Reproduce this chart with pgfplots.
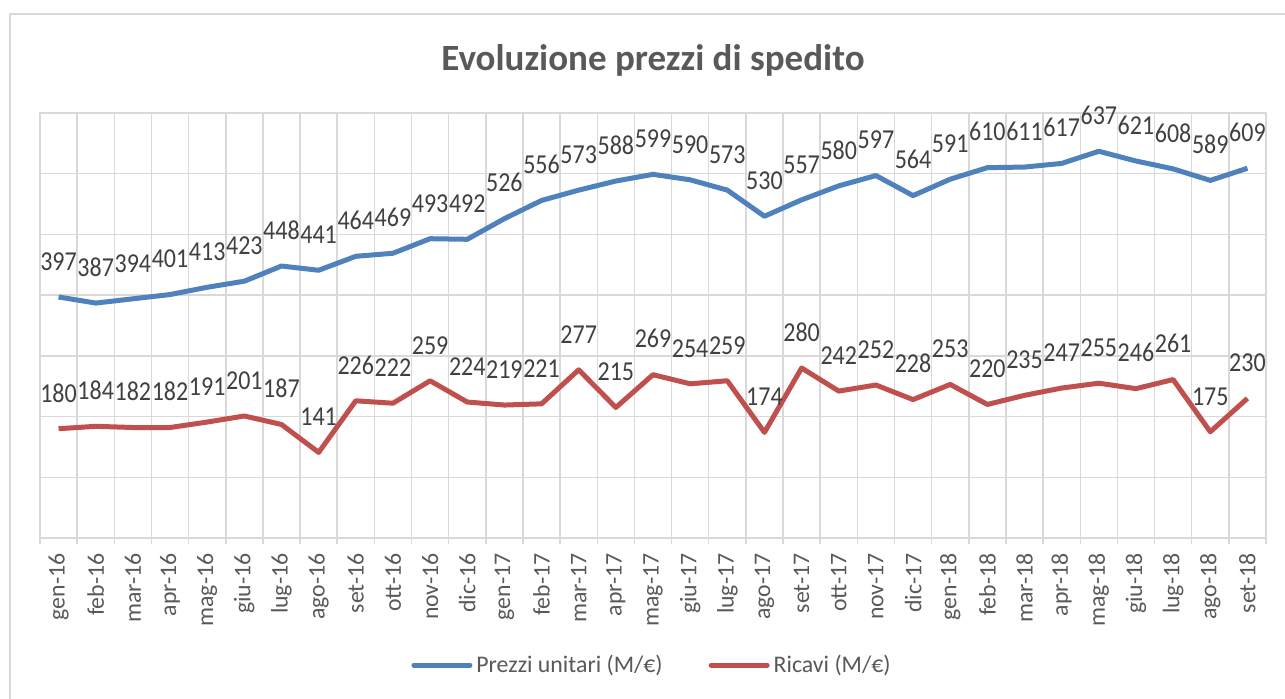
\documentclass[border=0pt]{standalone}
\usepackage{fontspec}
\setmainfont{Carlito}
\usepackage{graphicx}
\usepackage{pgfplots}
\usepackage{pgfplotstable}
\pgfplotsset{compat=1.18}

\definecolor{serieblu}{HTML}{4F81BD}
\definecolor{serierossa}{HTML}{C0504D}
\definecolor{griglia}{HTML}{D9D9D9}
\definecolor{testo}{HTML}{595959}
\definecolor{etichette}{HTML}{404040}

% mese (0 = gen-16), prezzi unitari, ricavi
\pgfplotstableread{
x prezzi ricavi
0  397 180
1  387 184
2  394 182
3  401 182
4  413 191
5  423 201
6  448 187
7  441 141
8  464 226
9  469 222
10 493 259
11 492 224
12 526 219
13 556 221
14 573 277
15 588 215
16 599 269
17 590 254
18 573 259
19 530 174
20 557 280
21 580 242
22 597 252
23 564 228
24 591 253
25 610 220
26 611 235
27 617 247
28 637 255
29 621 246
30 608 261
31 589 175
32 609 230
}\dati

\begin{document}
\begin{tikzpicture}
\useasboundingbox (0,0) rectangle (642.5pt,-349pt);
\draw[griglia, line width=0.75pt] (5pt,-352pt) -- (5pt,-7pt) -- (645pt,-7pt);
\node[text=testo, font=\fontsize{18.5}{22}\selectfont\bfseries] at (326.5pt,-30pt) {Evoluzione prezzi di spedito};

\begin{axis}[
    at={(20pt,-269pt)}, anchor=south west,
    scale only axis,
    width=613pt, height=212.5pt,
    xmin=-0.5, xmax=32.5,
    ymin=0, ymax=700,
    xtick={0,...,32},
    xticklabels={gen-16,feb-16,mar-16,apr-16,mag-16,giu-16,lug-16,ago-16,set-16,ott-16,nov-16,dic-16,
                 gen-17,feb-17,mar-17,apr-17,mag-17,giu-17,lug-17,ago-17,set-17,ott-17,nov-17,dic-17,
                 gen-18,feb-18,mar-18,apr-18,mag-18,giu-18,lug-18,ago-18,set-18},
    minor xtick={-0.5,0.5,...,32.5},
    xminorgrids,
    major tick length=0pt,
    minor tick length=3pt,
    tick align=outside,
    xtick pos=bottom,
    ytick={0,100,...,700},
    yticklabels={},
    ymajorgrids,
    ytick style={draw=none},
    grid style={griglia, line width=0.75pt},
    minor grid style={griglia, line width=0.75pt},
    axis line style={griglia, line width=0.75pt},
    minor tick style={griglia, line width=0.75pt},
    xticklabel shift=7.5pt,
    xticklabel style={rotate=90, anchor=east, text=testo,
        font=\fontsize{11.9}{13}\selectfont, inner sep=0pt},
    /pgf/number format/assume math mode=true,
    nodes near coords={\scalebox{1}[1.14]{\pgfmathprintnumber{\pgfplotspointmeta}}},
    every node near coord/.append style={anchor=south, inner sep=0pt, yshift=12pt,
        text=etichette, font=\fontsize{12}{14}\selectfont},
    legend columns=2,
    legend style={at={(0.5,-0.299)}, anchor=center, draw=none,
        font=\fontsize{11.9}{13}\selectfont, text=testo,
        /tikz/every even column/.append style={column sep=21pt}},
    legend image code/.code={\draw[#1, line cap=round] (0pt,0pt) -- (28pt,0pt);},
]
\addplot[serieblu, line width=2.5pt, line join=round] table[x=x, y=prezzi] {\dati};
\addlegendentry{Prezzi unitari (M/€)}
\addplot[serierossa, line width=2.5pt, line join=round] table[x=x, y=ricavi] {\dati};
\addlegendentry{Ricavi (M/€)}
\end{axis}
\end{tikzpicture}
\end{document}
